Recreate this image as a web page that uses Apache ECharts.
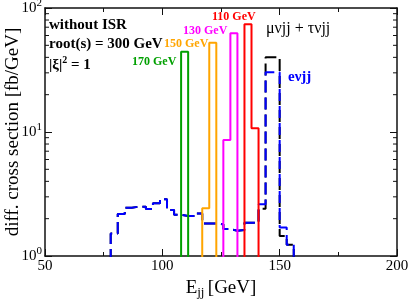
<!DOCTYPE html>
<html><head><meta charset="utf-8">
<script src="https://cdn.jsdelivr.net/npm/echarts@6/dist/echarts.min.js"></script>
<style>html,body{margin:0;padding:0;background:#fff}#c{width:409px;height:299px}</style>
</head><body><div id="c"></div>
<script>
// ---- data ----
const binWidth = 3;            // GeV
const bgStart = 78;            // first bin edge of background histograms
const evjj  = [1.52,2.18,2.45,2.5,2.5,2.39,2.66,2.87,2.35,2.15,2.1,2.1,2.2,1.83,1.83,1.8,1.65,1.6,1.62,1.85,1.85,2.62,30.3,30.3,1.7,1.23];
const mutauvjj = [1.52,2.18,2.45,2.5,2.5,2.39,2.66,2.87,2.35,2.15,2.1,2.1,2.2,1.83,1.83,1.8,1.65,1.6,1.62,1.85,1.85,2.41,40,40,1.45,1.23];
const sig170Start = 108, sig170 = [44.4];
const sig150Start = 117, sig150 = [2.43, 52.5];
const sig130Start = 126, sig130 = [8.6, 62.5];
const sig110Start = 135, sig110 = [73.8, 10.7];
const xTicks = [50, 100, 150, 200];
const yMajor = [1, 10, 100];
const yMinor = [2,3,4,5,6,7,8,9,20,30,40,50,60,70,80,90];

const FLOOR = 0.1;
function hist(start, vals){
  const pts = [[start, FLOOR]];
  vals.forEach((v,i)=>{ pts.push([start+i*binWidth, v]); pts.push([start+(i+1)*binWidth, v]); });
  pts.push([start+vals.length*binWidth, FLOOR]);
  return pts;
}
const SERIF = '"Liberation Serif","DejaVu Serif",serif';
const chart = echarts.init(document.getElementById('c'), null, {renderer:'canvas'});
function lineSeries(name, data, color, dashed){
  return {name, type:'line', data, showSymbol:false, symbol:'none', animation:false, clip:true,
    lineStyle:{color, width:2, type: dashed ? [12,5] : 'solid'}, itemStyle:{color}, z: dashed?2:3};
}
const axisLine = {show:true, lineStyle:{color:'#111', width:1.5}};
chart.setOption({
  animation:false,
  grid:{left:45, right:12, top:8, bottom:43, containLabel:false, outerBoundsMode:'none'},
  xAxis:[{type:'value', min:xTicks[0], max:xTicks[xTicks.length-1], interval:50, position:'bottom',
      axisLine, splitLine:{show:false},
      axisTick:{inside:true, length:7, lineStyle:{color:'#111'}},
      minorTick:{show:true, splitNumber:2, length:4, lineStyle:{color:'#111'}},
      axisLabel:{color:'#000', fontFamily:SERIF, fontSize:15, margin:3},
      name:'{a|E}{s|jj} {a|[GeV]}', nameLocation:'middle', nameGap:16,
      nameTextStyle:{rich:{a:{fontFamily:SERIF, fontSize:19, color:'#000'}, s:{fontFamily:SERIF, fontSize:13, color:'#000', verticalAlign:'bottom', padding:[8,0,0,0]}}}},
    {type:'value', min:xTicks[0], max:xTicks[xTicks.length-1], interval:50, position:'top',
      axisLine, splitLine:{show:false}, axisLabel:{show:false},
      axisTick:{inside:true, length:7, lineStyle:{color:'#111'}},
      minorTick:{show:true, splitNumber:2, length:4, lineStyle:{color:'#111'}}}],
  yAxis:[{type:'log', logBase:10, min:yMajor[0], max:yMajor[yMajor.length-1], position:'left',
      axisLine, splitLine:{show:false},
      axisTick:{inside:true, length:7, lineStyle:{color:'#111'}},
      axisLabel:{color:'#000', margin:3, formatter:(v)=>'{a|10}{s|'+Math.round(Math.log10(v))+'}',
        rich:{a:{fontFamily:SERIF, fontSize:15, color:'#000'}, s:{fontFamily:SERIF, fontSize:11, color:'#000', verticalAlign:'top', padding:[0,0,9,0]}}}},
    {type:'log', logBase:10, min:yMajor[0], max:yMajor[yMajor.length-1], position:'right',
      axisLine, splitLine:{show:false}, axisLabel:{show:false},
      axisTick:{inside:true, length:7, lineStyle:{color:'#111'}}}],
  series:[
    lineSeries('μνjj + τνjj', hist(bgStart, mutauvjj), '#000000', true),
    lineSeries('eνjj', hist(bgStart, evjj), '#0000ff', true),
    lineSeries('170 GeV', hist(sig170Start, sig170), '#00a000', false),
    lineSeries('150 GeV', hist(sig150Start, sig150), '#ffa500', false),
    lineSeries('130 GeV', hist(sig130Start, sig130), '#ff00ff', false),
    lineSeries('110 GeV', hist(sig110Start, sig110), '#ff0000', false),
    {type:'custom', name:'minor', animation:false, silent:true, z:5,
      data: yMinor.map(v=>[xTicks[0], v]),
      renderItem:(params, api)=>{
        const v = api.value(1);
        const pL = api.coord([xTicks[0], v]);
        const pR = api.coord([xTicks[xTicks.length-1], v]);
        const st = {stroke:'#111', lineWidth:1};
        return {type:'group', children:[
          {type:'line', shape:{x1:pL[0], y1:pL[1], x2:pL[0]+4, y2:pL[1]}, style:st},
          {type:'line', shape:{x1:pR[0], y1:pR[1], x2:pR[0]-4, y2:pR[1]}, style:st}]};
      }}
  ],
  graphic:[
    {type:'text', x:13, y:132, rotation:Math.PI/2, style:{text:'diff. cross section [fb/GeV]', font:'19px '+SERIF, fill:'#000', align:'center', verticalAlign:'middle'}},
    {type:'text', x:49, y:25, style:{text:'without ISR', font:'bold 15px '+SERIF, fill:'#000', verticalAlign:'middle'}},
    {type:'text', x:49, y:44, style:{text:'root(s) = 300 GeV', font:'bold 15px '+SERIF, fill:'#000', verticalAlign:'middle'}},
    {type:'text', x:49, y:65, style:{text:'{b||ξ|}{s|2}{b| = 1}', verticalAlign:'middle',
      rich:{b:{font:'bold 15px '+SERIF, fill:'#000'}, s:{font:'bold 10px '+SERIF, fill:'#000', verticalAlign:'top', padding:[0,0,9,0]}}}},
    {type:'text', x:132, y:62, style:{text:'170 GeV', font:'bold 12px '+SERIF, fill:'#00a000', verticalAlign:'middle'}},
    {type:'text', x:164, y:44, style:{text:'150 GeV', font:'bold 12px '+SERIF, fill:'#ffa500', verticalAlign:'middle'}},
    {type:'text', x:183, y:31, style:{text:'130 GeV', font:'bold 12px '+SERIF, fill:'#ff00ff', verticalAlign:'middle'}},
    {type:'text', x:212, y:17, style:{text:'110 GeV', font:'bold 12px '+SERIF, fill:'#ff0000', verticalAlign:'middle'}},
    {type:'text', x:266, y:29, style:{text:'μνjj + τνjj', font:'16px '+SERIF, fill:'#000', verticalAlign:'middle'}},
    {type:'text', x:288, y:77, style:{text:'eνjj', font:'bold 15px '+SERIF, fill:'#0000ff', verticalAlign:'middle'}}
  ]
});
</script></body></html>
